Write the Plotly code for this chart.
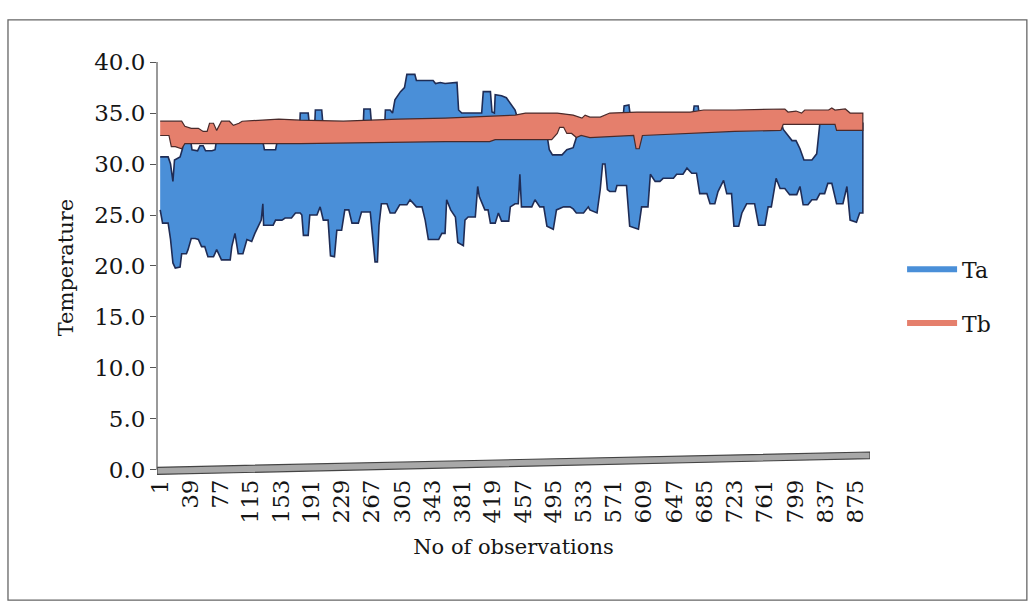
import plotly.graph_objects as go

ta_upper_obs = [1, 11, 14, 17, 19, 26, 29, 32, 38, 41, 48, 51, 55, 58, 66, 70, 73, 128, 132, 146, 150, 176,
                177, 187, 189, 195, 196, 204, 206, 256, 257, 265, 267, 283, 284, 290, 293, 296, 303, 308, 311,
                321, 323, 344, 347, 353, 359, 374, 376, 380, 401, 405, 407, 416, 418, 421, 422, 430, 436, 441,
                447, 452, 486, 488, 490, 494, 506, 512, 520, 524, 526, 582, 584, 590, 593, 670, 672, 677, 679,
                781, 784, 790, 795, 800, 805, 810, 820, 826, 830, 884]
ta_upper = [30.7, 30.7, 30.0, 28.3, 30.4, 30.7, 31.5, 33.0, 33.0, 31.4, 31.3, 31.8, 31.8, 31.3, 31.3, 31.4, 33.0,
            33.0, 31.4, 31.4, 33.0, 33.0, 35.0, 35.0, 33.5, 33.5, 35.3, 35.3, 33.5, 33.5, 35.4, 35.4, 33.5, 33.5,
            35.3, 35.3, 35.0, 36.3, 37.1, 37.5, 38.8, 38.8, 38.2, 38.2, 37.9, 38.0, 37.9, 38.0, 35.3, 35.0, 35.0,
            35.0, 37.1, 37.1, 35.1, 35.0, 36.8, 36.7, 36.5, 35.9, 35.3, 34.0, 33.8, 32.4, 31.4, 30.9, 30.9, 31.4,
            31.6, 32.6, 33.5, 34.0, 35.7, 35.8, 34.0, 34.5, 35.7, 35.7, 34.5, 34.2, 33.4, 32.8, 32.3, 32.3, 31.5,
            30.4, 30.4, 31.0, 34.0, 34.0]

ta_lower_obs = [1, 4, 11, 14, 17, 20, 26, 28, 34, 36, 40, 45, 49, 53, 57, 61, 68, 72, 78, 89, 91, 95, 99, 105,
                110, 116, 120, 124, 128, 130, 131, 143, 146, 154, 158, 166, 171, 177,
                179, 181, 187, 189, 198, 202, 206, 212, 215, 220, 223, 229, 233, 238, 242, 250, 254, 265, 269,
                271, 274, 276, 279, 286, 290, 296, 302, 311, 315, 323, 330, 334, 338, 351, 355, 359,
                361, 366, 372, 375, 382, 384, 388, 397, 400, 402, 409, 413, 416, 422, 426, 430, 439, 441, 447,
                451, 453, 455, 468, 472, 478, 483, 487, 495, 499, 508, 516, 520, 524, 533, 539,
                541, 550, 554, 557, 560, 563, 566, 573, 575, 587, 591, 602, 606, 614, 617, 623, 629, 633, 646,
                650, 658, 663, 669, 675, 679, 688, 692, 698, 702, 709, 713, 719, 722,
                728, 732, 738, 748, 753, 761, 765, 769, 775, 780, 786, 792, 801, 805, 809, 815, 820, 826, 830,
                836, 840, 845, 851, 859, 864, 868, 876, 880, 884]
ta_lower = [25.5, 24.2, 24.2, 22.6, 20.3, 19.8, 19.9, 21.2, 21.2, 21.6, 22.7, 22.7, 22.6, 21.9, 21.9, 20.9, 20.9,
            21.6, 20.6, 20.6, 21.9, 23.2, 21.2, 21.2, 22.6, 22.4, 23.2, 23.9, 24.5, 26.1, 24.0, 24.0, 24.5, 24.5,
            24.7, 24.7, 25.2, 25.2,
            25.0, 23.0, 23.0, 25.0, 25.0, 25.8, 24.5, 24.5, 21.0, 20.9, 23.5, 23.5, 25.5, 25.5, 24.2, 24.2, 25.3,
            25.3, 22.0, 20.4, 20.4, 24.0, 26.1, 26.1, 25.2, 25.2, 26.0, 26.0, 26.5, 25.8, 25.8, 24.5, 22.6, 22.6,
            23.2, 23.2,
            26.5, 25.5, 24.8, 22.3, 22.0, 24.5, 24.8, 24.8, 27.8, 26.8, 25.5, 25.5, 24.2, 24.2, 25.2, 24.4, 24.4,
            25.8, 26.1, 26.1, 29.0, 25.8, 25.8, 26.5, 25.8, 25.8, 23.9, 23.6, 25.5, 25.8, 25.8, 25.6, 25.2, 25.2,
            25.8,
            25.5, 25.2, 27.5, 30.0, 30.0, 27.5, 27.3, 27.3, 27.9, 27.9, 23.9, 23.6, 25.8, 25.8, 29.0, 28.3, 28.3,
            28.6, 28.6, 29.0, 29.0, 29.6, 29.1, 29.1, 27.1, 27.1, 26.1, 26.1, 27.3, 28.4, 27.1, 27.1, 23.9,
            23.9, 25.2, 26.1, 26.1, 24.0, 24.0, 25.8, 25.8, 28.6, 27.6, 27.6, 27.0, 27.0, 27.8, 26.0, 26.0, 26.5,
            26.5, 27.1, 27.1, 28.1, 28.1, 26.1, 26.1, 27.8, 24.5, 24.3, 25.2, 25.2]

tb_upper_obs = [1, 28, 32, 40, 49, 55, 60, 63, 68, 72, 78, 88, 93, 100, 104, 150, 177, 231, 300, 359, 447, 460,
                500, 520, 531, 535, 541, 554, 566, 600, 667, 684, 723, 786, 790, 800, 807, 811, 841, 845, 849,
                862, 868, 884]
tb_upper = [34.2, 34.2, 33.7, 33.5, 33.5, 33.2, 33.2, 34.0, 34.0, 33.3, 34.2, 34.2, 33.8, 34.0, 34.2, 34.4, 34.3,
            34.2, 34.4, 34.5, 34.8, 35.0, 35.0, 34.8, 34.5, 34.8, 34.6, 34.6, 35.0, 35.1, 35.1, 35.3, 35.3, 35.4,
            35.1, 35.2, 35.0, 35.3, 35.3, 35.5, 35.3, 35.4, 35.0, 35.0]

tb_lower_obs = [1, 12, 15, 20, 28, 32, 177, 359, 415, 422, 493, 500, 503, 508, 512, 518, 524, 530, 541, 596, 599,
                603, 607, 723, 781, 784, 849, 851, 884]
tb_lower = [32.8, 32.8, 31.7, 31.7, 31.5, 32.0, 32.0, 32.2, 32.2, 32.4, 32.4, 33.0, 33.6, 33.6, 33.0, 33.0, 32.6,
            32.8, 32.6, 32.8, 31.5, 31.5, 32.8, 33.2, 33.3, 33.9, 33.9, 33.3, 33.3]

series_names = ["Ta", "Tb"]
tick_obs = list(range(1, 876, 38))
tick_text = [str(v) for v in tick_obs]
y_ticks = [0, 5, 10, 15, 20, 25, 30, 35, 40]

FONT = "DejaVu Serif"
TXT = "#151515"
BLUE = "#4a8fd8"
RED = "#e57f6c"
EDGE = "#1f2c55"

fig = go.Figure()

# Ta band
fig.add_trace(go.Scatter(
    x=ta_upper_obs + ta_lower_obs[::-1], y=ta_upper + ta_lower[::-1],
    fill="toself", fillcolor=BLUE, mode="lines",
    line=dict(color=EDGE, width=1.6), showlegend=False, hoverinfo="skip"))
# Tb band (drawn in front)
fig.add_trace(go.Scatter(
    x=tb_upper_obs + tb_lower_obs[::-1], y=tb_upper + tb_lower[::-1],
    fill="toself", fillcolor=RED, mode="lines",
    line=dict(color="#4a2a2a", width=1.2), showlegend=False, hoverinfo="skip"))

# legend entries
fig.add_trace(go.Scatter(x=[None], y=[None], mode="lines", name=series_names[0],
                         line=dict(color=BLUE, width=6), legendgroup="a"))
fig.add_trace(go.Scatter(x=[None], y=[None], mode="lines", name=series_names[1],
                         line=dict(color=RED, width=6), legendgroup="b"))

# 3-D floor slab
fig.add_shape(type="path", xref="x", yref="y",
              path="M -3,0.25 L 893,1.75 L 893,1.1 L -3,-0.45 Z",
              fillcolor="#a8a8a8", line=dict(color="#444444", width=1.2), layer="above")
# value-axis line
fig.add_shape(type="line", xref="paper", yref="y", x0=0, x1=0, y0=0, y1=40,
              line=dict(color="#555555", width=1.2))
# outer chart frame
fig.add_shape(type="rect", xref="paper", yref="paper", x0=-0.209, x1=1.220, y0=-0.29, y1=1.088,
              line=dict(color="#666666", width=1.3))

fig.update_layout(
    width=1031, height=605,
    margin=dict(l=157, r=161, t=57, b=127),
    paper_bgcolor="white", plot_bgcolor="white",
    font=dict(family=FONT, size=22, color=TXT),
    showlegend=True,
    legend=dict(x=1.045, y=0.545, xanchor="left", yanchor="top",
                traceorder="grouped", tracegroupgap=22,
                font=dict(family=FONT, size=22, color=TXT),
                itemwidth=50, bgcolor="rgba(0,0,0,0)"),
)
fig.update_xaxes(range=[-3, 893], tickmode="array", tickvals=tick_obs, ticktext=tick_text,
                 tickangle=-90, showgrid=False, zeroline=False, showline=False, ticks="",
                 tickfont=dict(family=FONT, size=23, color=TXT), ticklabelstandoff=-4,
                 title=dict(text="No of observations", font=dict(family=FONT, size=21, color=TXT),
                            standoff=16))
fig.update_yaxes(range=[-0.8, 40.5], tickmode="array", tickvals=y_ticks,
                 ticktext=[f"{v:.1f}" for v in y_ticks],
                 showgrid=False, zeroline=False, showline=False, ticks="outside", ticklen=6,
                 tickcolor="#555555", tickfont=dict(family=FONT, size=23, color=TXT),
                 title=dict(text="Temperature", font=dict(family=FONT, size=21, color=TXT), standoff=14))

fig.write_html("out.html")
